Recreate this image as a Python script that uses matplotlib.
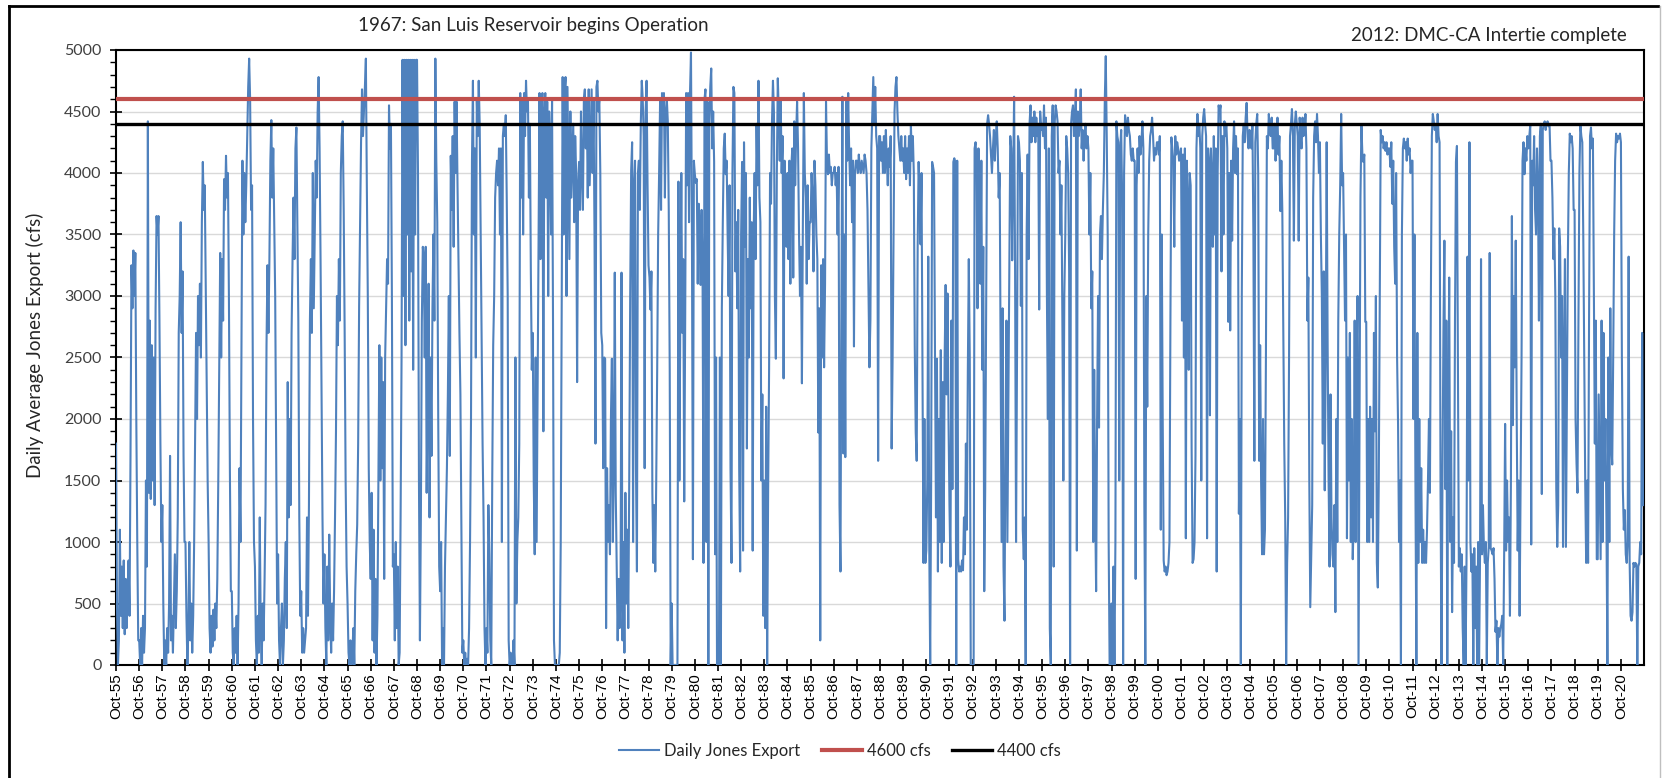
import numpy as np
import pandas as pd
import matplotlib
matplotlib.use('Agg')
import matplotlib.pyplot as plt
from matplotlib.lines import Line2D
from matplotlib.ticker import MultipleLocator

# Jones export (cfs): 24 values per water year (Oct..Sep)
wy1956_1965 = [
    [1800, 500, 0, 200, 1100, 400, 800, 300, 850, 250, 700, 300, 600, 850, 400, 1700, 3250, 2900, 3370, 3000, 3350, 2000, 1000, 200],
    [200, 0, 300, 0, 400, 100, 300, 1500, 800, 4420, 1400, 2800, 1350, 2600, 1500, 2500, 1300, 2900, 3650, 3500, 3650, 2800, 1800, 1000],
    [1300, 500, 0, 200, 0, 300, 100, 500, 1700, 200, 400, 100, 500, 900, 300, 600, 1200, 2700, 3000, 3600, 2700, 3200, 1700, 1000],
    [1000, 400, 0, 300, 1000, 200, 500, 100, 400, 1000, 1900, 2700, 2000, 3000, 2600, 3100, 2500, 3600, 4090, 3700, 3900, 3100, 2300, 1500],
    [1000, 300, 100, 400, 150, 450, 200, 500, 300, 700, 1500, 2400, 3350, 2500, 3300, 2800, 3950, 3700, 4140, 3800, 4000, 3000, 1600, 600],
    [600, 100, 0, 300, 100, 400, 0, 500, 1600, 1000, 2500, 4100, 3500, 4000, 3600, 3900, 4300, 4700, 4930, 4600, 3700, 3900, 2000, 1000],
    [800, 200, 0, 400, 100, 1200, 300, 0, 500, 200, 700, 1300, 2600, 3250, 2700, 3300, 4100, 4430, 3800, 4200, 3600, 3000, 1700, 500],
    [900, 200, 0, 300, 500, 0, 200, 700, 1000, 300, 2300, 1200, 2000, 1300, 2700, 3300, 3800, 3300, 4200, 4370, 3600, 2800, 1200, 400],
    [600, 100, 300, 100, 200, 300, 1200, 400, 1300, 2800, 3300, 2700, 4000, 2900, 3500, 4100, 3800, 4500, 4780, 4200, 3300, 2200, 1200, 500],
    [900, 300, 0, 800, 200, 1060, 400, 100, 500, 200, 600, 1200, 1900, 3000, 2600, 3300, 2800, 4000, 4300, 4420, 3700, 2700, 1500, 800],
]
wy1966_1975 = [
    [500, 100, 0, 200, 0, 100, 300, 0, 600, 900, 1140, 1800, 2920, 3600, 4250, 4680, 4300, 4500, 4700, 4930, 3900, 3000, 1600, 1000],
    [700, 1400, 200, 1100, 100, 700, 0, 400, 1500, 2600, 1500, 2500, 1600, 2300, 700, 2500, 2900, 3300, 3100, 4550, 4200, 4400, 3000, 800],
    [900, 200, 1000, 300, 800, 0, 100, 1200, 2500, 4920, 3000, 4920, 2600, 4920, 3500, 4920, 2800, 4920, 3200, 4920, 2400, 4920, 3500, 4920],
    [4920, 4000, 1500, 200, 1200, 2800, 3400, 3300, 2500, 3400, 1400, 2200, 3100, 1200, 2500, 1700, 2900, 3500, 2800, 4930, 4100, 3600, 2000, 800],
    [600, 1000, 0, 300, 0, 800, 1200, 1600, 2200, 3000, 1700, 4140, 3700, 4300, 3400, 4580, 4000, 4580, 3900, 3300, 2700, 2200, 1200, 100],
    [200, 0, 100, 0, 50, 0, 300, 1000, 2000, 4100, 4750, 3500, 4200, 2500, 4600, 4300, 4750, 4400, 3500, 2700, 1800, 1200, 300, 0],
    [300, 100, 1300, 900, 200, 0, 1500, 2600, 3000, 3800, 4000, 4100, 3900, 4200, 3500, 4200, 1000, 4300, 4400, 4300, 4470, 3800, 3000, 200],
    [0, 100, 0, 0, 200, 0, 2500, 500, 1000, 1200, 1800, 4650, 3800, 4580, 3500, 4650, 4300, 4750, 4500, 4600, 3800, 4400, 3200, 2400],
    [2700, 1500, 900, 2500, 1000, 2200, 3500, 4650, 3300, 4420, 4650, 1900, 4500, 4650, 3800, 4580, 3000, 4500, 4220, 3500, 4600, 2800, 200, 0],
    [0, 0, 0, 0, 100, 1000, 2800, 4780, 3500, 4650, 4780, 3000, 4700, 4000, 3300, 4500, 3800, 4100, 4400, 3600, 4300, 4000, 2300, 3900],
]
wy1976_1985 = [
    [4090, 3700, 4500, 4000, 3700, 4600, 4680, 4200, 4600, 3800, 4680, 3900, 4300, 4680, 4000, 4600, 3500, 1800, 4700, 4750, 4500, 4600, 4000, 2700],
    [2600, 1600, 2500, 2490, 300, 1600, 1000, 1300, 900, 2000, 2490, 1000, 1600, 3190, 1400, 800, 200, 700, 300, 600, 3190, 200, 1000, 100],
    [1400, 500, 1100, 300, 1500, 3000, 4020, 4250, 1000, 3900, 4100, 1600, 760, 4000, 4100, 3700, 4400, 4750, 4600, 4300, 1600, 4500, 4750, 3900],
    [3250, 3150, 2890, 3200, 1400, 830, 1300, 760, 1500, 2400, 3500, 4000, 4580, 3700, 4650, 4400, 4650, 3800, 4500, 4600, 4420, 3700, 2400, 0],
    [500, 0, 0, 0, 0, 0, 0, 3930, 1500, 2900, 4000, 2700, 3300, 1330, 2800, 4650, 3900, 4650, 3600, 4650, 4980, 3500, 860, 4100],
    [3990, 3920, 3950, 3100, 3750, 3500, 3090, 3700, 3200, 830, 4600, 4680, 1000, 4580, 0, 4400, 4700, 4850, 4200, 4500, 4090, 900, 2500, 0],
    [0, 0, 2500, 0, 2900, 3600, 4200, 4320, 3990, 4100, 3500, 3000, 3900, 1600, 830, 4000, 4700, 4650, 3200, 3600, 2900, 3700, 1600, 760],
    [3500, 4090, 930, 4250, 3400, 4000, 1760, 3300, 2500, 3800, 2900, 3600, 930, 3500, 4000, 3300, 4400, 3900, 4750, 3800, 3600, 1500, 2200, 400],
    [1500, 300, 2100, 0, 1400, 2400, 4000, 3750, 4420, 4750, 4500, 3000, 2490, 4000, 4770, 4500, 4100, 4600, 4000, 4300, 2330, 4100, 3800, 3400],
    [4000, 3300, 4100, 3100, 4050, 4200, 3150, 4420, 3900, 4300, 4580, 4200, 3500, 3000, 3400, 2290, 3600, 4650, 4000, 3800, 3100, 3900, 3300, 3600],
]
wy1986_1995 = [
    [3600, 4000, 3800, 3200, 4100, 3900, 3500, 3300, 1890, 2900, 200, 3250, 2500, 3300, 2420, 3100, 4580, 4100, 3990, 4150, 4000, 4050, 3900, 4000],
    [4000, 4050, 3900, 4000, 3500, 4050, 1300, 760, 3000, 4620, 1720, 3500, 1690, 4580, 4100, 4650, 4200, 3900, 4200, 3600, 4100, 2590, 4000, 4100],
    [4100, 4000, 4150, 4050, 4000, 4100, 4050, 4000, 4150, 4100, 4000, 3700, 3090, 2420, 2800, 4200, 4500, 4780, 4400, 4700, 4300, 4200, 1660, 4300],
    [4300, 4100, 4250, 4000, 4300, 4000, 4350, 4100, 3900, 4200, 4050, 4300, 1760, 2490, 3500, 4500, 4700, 4780, 4500, 4300, 4200, 4100, 4300, 4100],
    [4200, 4000, 4300, 3950, 4200, 4000, 4300, 3900, 4390, 4100, 4300, 4000, 2590, 1890, 1660, 3400, 4090, 3800, 3420, 4000, 2420, 830, 2000, 830],
    [930, 1500, 3320, 1000, 0, 1500, 4090, 4050, 4000, 2500, 1200, 2490, 760, 2000, 1000, 2560, 830, 2300, 1000, 2500, 3090, 2200, 3020, 2000],
    [1300, 800, 2800, 1430, 4090, 4120, 4090, 0, 4100, 860, 760, 800, 760, 850, 770, 1200, 900, 1800, 1100, 2400, 3300, 2500, 0, 0],
    [0, 0, 4200, 4250, 4100, 2900, 4200, 3800, 3100, 4100, 2400, 3400, 600, 1430, 3000, 4400, 4470, 4400, 4300, 4150, 4000, 4200, 4350, 4100],
    [4300, 4420, 4200, 3800, 4000, 2500, 1000, 2900, 800, 360, 1800, 2800, 1000, 2100, 3200, 4300, 4200, 3290, 4000, 4620, 3200, 1000, 2500, 4300],
    [4250, 4100, 2920, 4000, 1100, 860, 1200, 0, 3500, 4150, 3300, 4400, 4550, 4250, 4450, 4300, 4500, 4250, 4450, 4300, 4400, 2890, 4500, 4350],
]
wy1996_2005 = [
    [4400, 4300, 4550, 4200, 4450, 3000, 2000, 4200, 300, 0, 4300, 4550, 800, 4400, 4550, 4500, 4420, 4000, 4100, 3500, 3900, 2800, 1500, 3000],
    [3500, 4300, 4200, 4000, 3200, 0, 4400, 4500, 4550, 4300, 4400, 4680, 930, 4500, 4300, 4400, 4680, 4200, 4350, 4100, 4300, 4400, 4200, 4300],
    [4200, 3500, 4000, 2900, 3200, 1000, 2400, 1300, 600, 2000, 3000, 1930, 3500, 3650, 3300, 3700, 4000, 4600, 4950, 4300, 3500, 1000, 0, 0],
    [500, 0, 800, 0, 1000, 4420, 4300, 4250, 1500, 4200, 4350, 3800, 0, 4000, 4470, 4400, 4300, 4450, 4350, 4300, 4150, 4100, 4200, 4100],
    [4100, 700, 3900, 4200, 4000, 4300, 4150, 4250, 4420, 4200, 1300, 0, 3000, 2100, 3500, 4100, 4300, 4350, 4450, 4300, 4100, 4200, 4150, 4250],
    [4250, 4150, 4300, 1100, 3500, 2000, 850, 760, 800, 730, 760, 830, 1000, 2800, 4290, 4200, 4100, 3400, 4300, 4150, 4250, 4200, 4100, 4150],
    [4200, 2800, 4150, 2500, 4200, 1030, 4100, 3800, 2400, 4000, 3900, 1760, 830, 860, 1000, 1700, 4200, 4480, 4300, 4400, 4200, 1500, 4300, 4450],
    [4520, 4400, 4300, 1030, 4200, 4100, 2030, 4200, 4000, 3400, 4300, 3500, 4200, 760, 4000, 4550, 4500, 4550, 3200, 4300, 3500, 4420, 4300, 4400],
    [4200, 2790, 4000, 2720, 4100, 3450, 4200, 4420, 4000, 4300, 3990, 4200, 1230, 2000, 0, 3000, 4300, 4400, 4250, 4450, 4570, 4300, 4200, 4350],
    [4300, 4200, 4400, 3500, 1660, 4250, 4400, 4480, 4000, 1660, 2600, 1500, 900, 2000, 900, 1100, 2500, 4300, 4200, 4480, 4350, 4300, 4450, 4200],
]
wy2006_2015 = [
    [4200, 4400, 4100, 4300, 4450, 4150, 4300, 3690, 4100, 3700, 2800, 1800, 1200, 0, 830, 1200, 2500, 4300, 4400, 4520, 4300, 3450, 4400, 4500],
    [4400, 4300, 3450, 4450, 4300, 4200, 4450, 4300, 4350, 4480, 4200, 2800, 3150, 1500, 470, 900, 1300, 3800, 4300, 4420, 4250, 4480, 4300, 4000],
    [4250, 3500, 3000, 1800, 3200, 1420, 2500, 4250, 2600, 1500, 800, 2200, 1200, 900, 800, 1300, 430, 2000, 1000, 2800, 3500, 3900, 4480, 3900],
    [4000, 3400, 2800, 3500, 1030, 2500, 1500, 2700, 1000, 2000, 860, 1200, 2800, 1000, 2500, 3000, 0, 2000, 3800, 4390, 4150, 4090, 4150, 2790],
    [2790, 1000, 2000, 1000, 2100, 1200, 2000, 1000, 2700, 1900, 3000, 830, 630, 1500, 3000, 4350, 4250, 4300, 4200, 4250, 4180, 4250, 4150, 4200],
    [4200, 4050, 4250, 3750, 4100, 3400, 3100, 4000, 2500, 1960, 1000, 1500, 0, 3500, 4200, 4280, 4200, 4250, 4100, 4280, 4150, 4200, 4000, 4100],
    [4100, 2000, 3500, 1500, 0, 2700, 830, 2000, 1000, 1600, 830, 1100, 830, 1000, 830, 1100, 1500, 2000, 1400, 3000, 4300, 4480, 4420, 4350],
    [4400, 4250, 4480, 4300, 4250, 1430, 0, 1500, 2700, 3450, 1430, 2800, 0, 2000, 3150, 1000, 1900, 430, 1200, 830, 2800, 4090, 4220, 2500],
    [800, 950, 760, 900, 300, 0, 800, 0, 900, 3320, 1500, 4250, 1000, 760, 900, 0, 950, 300, 800, 0, 1000, 0, 900, 3300],
    [900, 1300, 960, 830, 1000, 0, 830, 960, 3350, 950, 930, 900, 950, 700, 270, 360, 0, 300, 230, 300, 330, 400, 0, 900],
]
wy2016_2021 = [
    [1960, 930, 1500, 1000, 1200, 400, 1500, 3650, 1950, 3000, 2420, 3450, 2000, 930, 1500, 400, 1500, 2500, 4100, 4250, 3990, 4200, 4100, 4300],
    [4200, 4300, 4390, 980, 4100, 3900, 4300, 3700, 3500, 4200, 3900, 2800, 4300, 4400, 1390, 4350, 4400, 4420, 4350, 4400, 4420, 4380, 4400, 4100],
    [4100, 3800, 3300, 3550, 3000, 1430, 960, 1300, 3550, 3400, 2500, 3000, 960, 2500, 3300, 960, 2200, 3300, 4000, 4320, 4250, 4300, 4200, 3700],
    [3700, 2000, 1640, 1400, 2800, 4000, 4390, 4300, 4250, 3500, 2500, 1500, 830, 1500, 830, 2800, 4300, 4370, 4200, 4280, 3000, 1800, 2800, 860],
    [860, 2200, 1500, 860, 2800, 1000, 2700, 1500, 2000, 1200, 0, 2500, 1000, 2900, 1800, 1630, 2500, 3500, 4100, 4320, 4250, 4300, 4280, 4320],
    [4250, 2500, 1430, 1100, 1260, 900, 830, 1000, 3320, 860, 400, 360, 430, 830, 800, 830, 820, 0, 800, 830, 1000, 900, 2700, 1300],
]

limit_hi = 4600
limit_lo = 4400
tick_years = list(range(1955, 2021))

# build the time axis: each water year runs Oct 1 .. Sep 30
rows = wy1956_1965 + wy1966_1975 + wy1976_1985 + wy1986_1995 + wy1996_2005 + wy2006_2015 + wy2016_2021
dates = []
flows = []
for wy, row in zip(range(1956, 2022), rows):
    start = pd.Timestamp(f'{wy - 1}-10-01')
    step = (pd.Timestamp(f'{wy}-10-01') - start) / len(row)
    dates += [start + i * step for i in range(len(row))]
    flows += row

fig = plt.figure(figsize=(16.63, 7.78), dpi=100)
ax = fig.add_axes([116 / 1663, 1 - 665 / 778, 1528 / 1663, 615 / 778])

ax.plot(dates, flows, color='#4F81BD', lw=1.5, label='Daily Jones Export', zorder=3)
ax.axhline(limit_hi, color='#C0504D', lw=3, label='4600 cfs', zorder=4)
ax.axhline(limit_lo, color='black', lw=2.4, label='4400 cfs', zorder=4)

ax.set_ylim(0, 5000)
ax.yaxis.set_major_locator(MultipleLocator(500))
ax.yaxis.set_minor_locator(MultipleLocator(100))
ax.set_xlim(pd.Timestamp('1955-10-01'), pd.Timestamp('2021-09-30'))
ticks = [pd.Timestamp(f'{y}-10-01') for y in tick_years]
ax.set_xticks(ticks)
ax.set_xticklabels([t.strftime('Oct-%y') for t in ticks], rotation=90,
                   fontsize=11, family='Liberation Sans')
for lab in ax.get_yticklabels():
    lab.set_family('Lato')
ax.tick_params(axis='x', which='major', direction='inout', length=8, width=1.2, pad=2)
ax.tick_params(axis='y', which='major', direction='inout', length=9, width=1.2,
               labelsize=11.5, labelcolor='#404040', pad=6)
ax.tick_params(axis='y', which='minor', direction='out', length=4, width=1)

ax.yaxis.grid(True, color='#D9D9D9', lw=1)
ax.set_axisbelow(True)
for s in ax.spines.values():
    s.set_color('black')
    s.set_linewidth(1.5)

ax.set_ylabel('Daily Average Jones Export (cfs)', fontsize=13.5, family='Lato', color='#262626')
ax.yaxis.set_label_coords(-0.047, 0.52)

fig.text(533 / 1663, 1 - 25 / 778, '1967: San Luis Reservoir begins Operation',
         ha='center', va='center', fontsize=13.5, family='Lato', color='#262626')
fig.text(1627 / 1663, 1 - 35 / 778, '2012: DMC-CA Intertie complete',
         ha='right', va='center', fontsize=13.5, family='Lato', color='#262626')

fig.legend(loc='center', bbox_to_anchor=(840 / 1663, 1 - 751 / 778), ncol=3, frameon=False,
           prop={'family': 'Lato', 'size': 12}, handlelength=2.4, handletextpad=0.3,
           columnspacing=1.3, labelcolor='#262626')

# outer chart border
fig.add_artist(Line2D([9 / 1663, 1658 / 1663], [1 - 6 / 778] * 2, color='black', lw=2, transform=fig.transFigure))
fig.add_artist(Line2D([9 / 1663] * 2, [0, 1 - 6 / 778], color='black', lw=2, transform=fig.transFigure))
fig.add_artist(Line2D([1660 / 1663] * 2, [0, 1 - 6 / 778], color='#BFBFBF', lw=1, transform=fig.transFigure))

fig.savefig('out.png', dpi=100)
